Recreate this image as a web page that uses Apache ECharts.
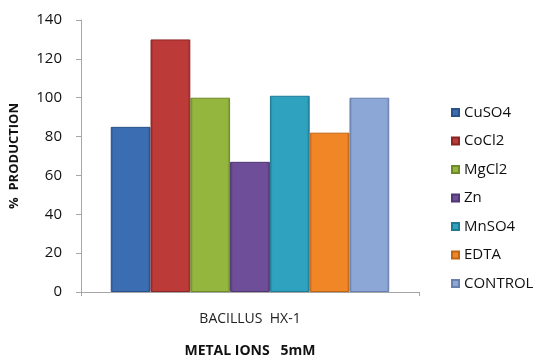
<!DOCTYPE html>
<html>
<head>
<meta charset="utf-8">
<script src="https://cdn.jsdelivr.net/npm/echarts@6/dist/echarts.min.js"></script>
<style>
  html, body { margin: 0; padding: 0; background: #fff; }
  #chart { width: 534px; height: 363px; }
</style>
</head>
<body>
<div id="chart"></div>
<script>
// Data
const categories = ['BACILLUS  HX-1'];
const seriesNames = ['CuSO4', 'CoCl2', 'MgCl2', 'Zn', 'MnSO4', 'EDTA', 'CONTROL'];
const production = [85, 130, 100, 67, 101, 82, 100];
const yTicks = { min: 0, max: 140, interval: 20 };

// Palette: [edge, body] per series
const palette = [
  ['#2a5188', '#3a6db2'],
  ['#8c2626', '#bc3a37'],
  ['#6f8a29', '#94b63f'],
  ['#4e3772', '#6e4e98'],
  ['#1f7a93', '#2fa2bf'],
  ['#c06514', '#f08626'],
  ['#6780ae', '#8ca7d6']
];

function barFill(c) {
  return new echarts.graphic.LinearGradient(0, 0, 1, 0, [
    { offset: 0, color: c[0] },
    { offset: 0.07, color: c[1] },
    { offset: 0.93, color: c[1] },
    { offset: 1, color: c[0] }
  ]);
}

const series = seriesNames.map((name, i) => ({
  name: name,
  type: 'bar',
  data: [production[i]],
  barGap: '0%',
  barCategoryGap: '17.6%',
  itemStyle: {
    color: barFill(palette[i]),
    borderColor: palette[i][0],
    borderWidth: 1
  }
}));

const chart = echarts.init(document.getElementById('chart'), null, { renderer: 'canvas' });
chart.setOption({
  animation: false,
  backgroundColor: '#ffffff',
  color: palette.map(c => c[1]),
  textStyle: { fontFamily: 'Open Sans' },
  grid: { left: 81, right: 115, top: 20, bottom: 62, containLabel: false },
  legend: {
    orient: 'vertical',
    left: 446,
    top: 100,
    icon: 'rect',
    itemWidth: 7,
    itemHeight: 7,
    itemGap: 13.5,
    itemTextGap: 7,
    data: seriesNames,
    textStyle: { fontFamily: 'Open Sans', fontSize: 15, color: '#111', lineHeight: 15 }
  },
  xAxis: {
    type: 'category',
    data: categories,
    name: 'METAL IONS   5mM',
    nameLocation: 'middle',
    nameGap: 52,
    nameTextStyle: { fontFamily: 'Open Sans', fontWeight: 'bold', fontSize: 14, color: '#111' },
    axisLine: { lineStyle: { color: '#a6a6a6', width: 1 } },
    axisTick: { show: true, length: 4, lineStyle: { color: '#a6a6a6' } },
    axisLabel: { margin: 20, fontFamily: 'Open Sans', fontSize: 14, color: '#222' }
  },
  yAxis: {
    type: 'value',
    min: yTicks.min,
    max: yTicks.max,
    interval: yTicks.interval,
    name: '%  PRODUCTION',
    nameLocation: 'middle',
    nameGap: 60,
    nameRotate: 90,
    nameTextStyle: { fontFamily: 'Open Sans', fontWeight: 'bold', fontSize: 13, color: '#111' },
    axisLine: { show: true, lineStyle: { color: '#a6a6a6', width: 1 } },
    axisTick: { show: true, length: 5, lineStyle: { color: '#a6a6a6' } },
    splitLine: { show: false },
    axisLabel: { margin: 19, fontFamily: 'Open Sans', fontSize: 15, color: '#111' }
  },
  series: series
});
</script>
</body>
</html>
